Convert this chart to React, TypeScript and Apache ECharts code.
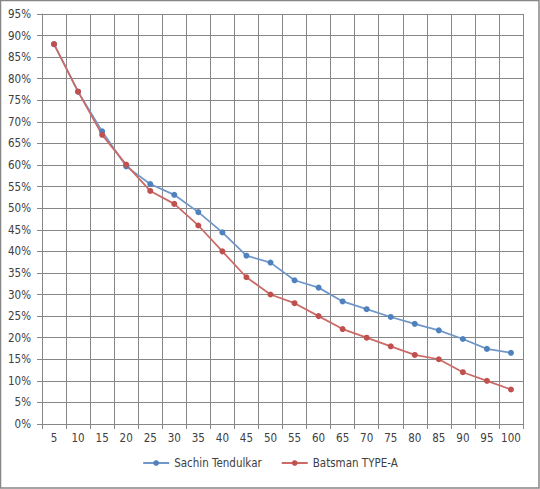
import React, { useEffect, useRef } from "react";
import * as echarts from "echarts";

const categories = ["5", "10", "15", "20", "25", "30", "35", "40", "45", "50", "55", "60", "65", "70", "75", "80", "85", "90", "95", "100"];
const sachin = [88, 77, 67.8, 59.7, 55.6, 53.1, 49.1, 44.4, 39.0, 37.4, 33.3, 31.6, 28.4, 26.6, 24.8, 23.2, 21.7, 19.7, 17.4, 16.5];
const batsmanA = [88, 77, 67, 60.1, 54, 51, 46, 40, 34, 30, 28, 25, 22, 20, 18, 16, 15, 12, 10, 8];
const seriesNames = ["Sachin Tendulkar", "Batsman TYPE-A"];

const FONT = "'DejaVu Sans Condensed', 'DejaVu Sans', sans-serif";
const GRID = "#878787";
const TEXT = "#404040";

export default function App() {
  const ref = useRef<HTMLDivElement>(null);
  useEffect(() => {
    const chart = echarts.init(ref.current!, null, { renderer: "svg" });
    chart.setOption({
      animation: false,
      backgroundColor: "#ffffff",
      textStyle: { fontFamily: FONT },
      graphic: [
        {
          type: "rect",
          shape: { x: 0.5, y: 0.5, width: 538.5, height: 487.5 },
          style: { fill: "none", stroke: "#868686", lineWidth: 1.5 },
          silent: true,
        },
      ],
      grid: { left: 42, right: 17, top: 14, bottom: 65, containLabel: false },
      legend: {
        bottom: 15,
        left: "center",
        itemWidth: 26,
        itemHeight: 7,
        itemGap: 19,
        textStyle: { fontFamily: FONT, fontSize: 11.5, color: TEXT },
        data: seriesNames,
      },
      xAxis: {
        type: "category",
        data: categories,
        boundaryGap: true,
        axisLine: { show: true, lineStyle: { color: GRID, width: 1 } },
        axisTick: { show: true, length: 5, interval: 0, lineStyle: { color: GRID } },
        axisLabel: { color: TEXT, fontFamily: FONT, fontSize: 11.5, margin: 8, interval: 0 },
        splitLine: { show: true, interval: 0, lineStyle: { color: GRID, width: 1 } },
      },
      yAxis: {
        type: "value",
        min: 0,
        max: 95,
        interval: 5,
        axisLine: { show: true, lineStyle: { color: GRID, width: 1 } },
        axisTick: { show: true, length: 5, lineStyle: { color: GRID } },
        axisLabel: { color: TEXT, fontFamily: FONT, fontSize: 11.5, margin: 11, formatter: "{value}%" },
        splitLine: { show: true, lineStyle: { color: GRID, width: 1 } },
      },
      series: [
        {
          name: seriesNames[0],
          type: "line",
          data: sachin,
          symbol: "circle",
          symbolSize: 6,
          itemStyle: { color: "#4F81BD" },
          lineStyle: { color: "#6f97c9", width: 1.75 },
        },
        {
          name: seriesNames[1],
          type: "line",
          data: batsmanA,
          symbol: "circle",
          symbolSize: 6,
          itemStyle: { color: "#C0504D" },
          lineStyle: { color: "#cc6a67", width: 1.75 },
        },
      ],
    });
    return () => chart.dispose();
  }, []);
  return (
    <div
      ref={ref}
      style={{ position: "fixed", left: 0, top: 0, width: 540, height: 489 }}
    />
  );
}
